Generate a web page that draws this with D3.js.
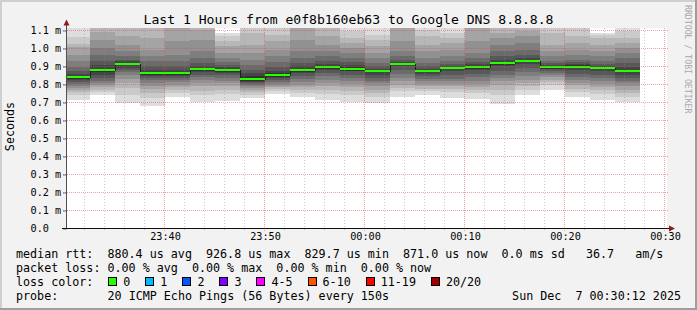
<!DOCTYPE html>
<html>
<head>
<meta charset="utf-8">
<script src="https://cdn.jsdelivr.net/npm/d3@7"></script>
<style>
  html, body { margin: 0; padding: 0; background: #f2f2f2; }
  svg { display: block; }
  text { font-family: "DejaVu Sans Mono", monospace; white-space: pre; }
</style>
</head>
<body>
<div id="chart"></div>
<script>
// ---- data ----
const title = "Last 1 Hours from e0f8b160eb63 to Google DNS 8.8.8.8";
const graphStart = "23:30:12";
const graphEnd = "00:30:12";

// end time of every 150 s step (first step starts at graphStart)
const stepEnds = [
    "23:32:30", "23:35:00", "23:37:30", "23:40:00", "23:42:30", "23:45:00",
    "23:47:30", "23:50:00", "23:52:30", "23:55:00", "23:57:30", "00:00:00",
    "00:02:30", "00:05:00", "00:07:30", "00:10:00", "00:12:30", "00:15:00",
    "00:17:30", "00:20:00", "00:22:30", "00:25:00", "00:27:30"
];

// median rtt per step, ms
const medians = [
    0.837, 0.876, 0.913, 0.859, 0.859, 0.881, 0.876, 0.8297, 0.848, 0.876, 0.893, 0.883,
    0.870, 0.909, 0.870, 0.887, 0.893, 0.915, 0.9268, 0.893, 0.896, 0.887, 0.871
];

// the 20 sorted pings per step, ms (smoke)
const pings = [
    [0.713,0.737,0.756,0.767,0.778,0.791,0.800,0.811,0.820,0.830,0.843,0.856,0.870,0.893,0.926,0.963,1.004,1.022,1.059,1.130],
    [0.737,0.754,0.769,0.783,0.796,0.806,0.818,0.833,0.852,0.867,0.885,0.904,0.930,0.963,1.000,1.046,1.090,1.120,1.150,1.200],
    [0.694,0.737,0.778,0.806,0.830,0.852,0.867,0.880,0.890,0.908,0.918,0.926,0.935,0.954,0.981,1.018,1.068,1.120,1.150,1.200],
    [0.676,0.722,0.750,0.772,0.791,0.806,0.820,0.833,0.843,0.851,0.867,0.880,0.898,0.926,0.954,0.990,1.055,1.110,1.130,1.200],
    [0.726,0.750,0.769,0.781,0.796,0.809,0.820,0.833,0.845,0.851,0.867,0.880,0.898,0.926,0.963,1.037,1.110,1.120,1.150,1.200],
    [0.700,0.737,0.763,0.787,0.806,0.824,0.837,0.852,0.867,0.873,0.889,0.900,0.917,0.944,0.981,1.046,1.100,1.120,1.150,1.200],
    [0.707,0.744,0.769,0.787,0.804,0.818,0.833,0.848,0.861,0.869,0.883,0.893,0.904,0.922,0.944,0.972,1.009,1.037,1.065,1.083],
    [0.720,0.739,0.754,0.765,0.776,0.787,0.796,0.804,0.810,0.816,0.843,0.861,0.880,0.907,0.935,0.972,1.018,1.083,1.110,1.130],
    [0.746,0.761,0.772,0.781,0.791,0.800,0.811,0.822,0.833,0.837,0.859,0.874,0.893,0.922,0.954,0.990,1.037,1.074,1.110,1.130],
    [0.729,0.750,0.767,0.781,0.796,0.811,0.828,0.843,0.861,0.867,0.885,0.898,0.917,0.944,0.981,1.046,1.110,1.120,1.150,1.200],
    [0.713,0.744,0.769,0.787,0.806,0.824,0.843,0.861,0.880,0.886,0.900,0.911,0.930,0.954,0.981,1.018,1.065,1.110,1.150,1.200],
    [0.700,0.737,0.763,0.781,0.800,0.815,0.833,0.852,0.870,0.873,0.893,0.907,0.922,0.944,0.972,1.000,1.028,1.055,1.092,1.130],
    [0.694,0.726,0.750,0.769,0.787,0.804,0.818,0.833,0.852,0.864,0.876,0.885,0.898,0.917,0.944,0.972,1.009,1.046,1.074,1.120],
    [0.729,0.759,0.778,0.796,0.815,0.833,0.856,0.880,0.898,0.903,0.915,0.922,0.935,0.954,0.981,1.037,1.110,1.120,1.150,1.200],
    [0.737,0.759,0.774,0.787,0.800,0.815,0.830,0.843,0.856,0.864,0.876,0.885,0.898,0.917,0.944,0.981,1.018,1.065,1.100,1.150],
    [0.722,0.754,0.774,0.787,0.800,0.815,0.830,0.848,0.870,0.881,0.893,0.900,0.911,0.930,0.954,0.990,1.028,1.055,1.083,1.110],
    [0.718,0.750,0.769,0.785,0.800,0.818,0.837,0.856,0.880,0.886,0.900,0.911,0.922,0.944,0.972,1.037,1.110,1.120,1.150,1.200],
    [0.689,0.737,0.769,0.793,0.815,0.833,0.852,0.870,0.898,0.908,0.922,0.935,0.954,0.981,1.018,1.055,1.083,1.110,1.150,1.200],
    [0.739,0.769,0.787,0.806,0.824,0.843,0.867,0.889,0.911,0.920,0.933,0.944,0.963,0.990,1.028,1.065,1.092,1.110,1.150,1.200],
    [0.769,0.793,0.811,0.824,0.837,0.848,0.859,0.870,0.883,0.886,0.900,0.907,0.917,0.930,0.954,0.981,1.018,1.083,1.110,1.130],
    [0.726,0.754,0.774,0.793,0.807,0.822,0.837,0.856,0.880,0.888,0.904,0.911,0.920,0.935,0.959,0.990,1.028,1.065,1.110,1.130],
    [0.713,0.744,0.769,0.785,0.800,0.815,0.833,0.852,0.870,0.881,0.893,0.900,0.911,0.930,0.954,0.981,1.018,1.055,1.074,1.083],
    [0.700,0.726,0.750,0.769,0.787,0.804,0.818,0.833,0.852,0.864,0.878,0.894,0.917,0.944,0.972,1.000,1.028,1.055,1.092,1.110]
];

const yTicks = [0, 0.1, 0.2, 0.3, 0.4, 0.5, 0.6, 0.7, 0.8, 0.9, 1.0, 1.1];
const yMax = 1.1111;

const legendRtt = "median rtt:  880.4 us avg  926.8 us max  829.7 us min  871.0 us now  0.0 ms sd   36.7   am/s";
const legendLoss = "packet loss: 0.00 % avg  0.00 % max  0.00 % min  0.00 % now";
const lossLabels = ["0", "1", "2", "3", "4-5", "6-10", "11-19", "20/20"];
const lossColors = ["#26ff00", "#00b8ff", "#0059ff", "#7e00ff", "#ff00ff", "#ff5500", "#ff0000", "#a10000"];
const probeText = "20 ICMP Echo Pings (56 Bytes) every 150s";
const stampText = "Sun Dec  7 00:30:12 2025";

// ---- drawing ----
const W = 697, H = 310;
const charW = 7.04; // legend advance

function toDate(s) {
    let [h, m, sec] = s.split(":").map(Number);
    return new Date(Date.UTC(2025, 11, h >= 12 ? 6 : 7, h, m, sec));
}

const x = d3.scaleUtc()
    .domain([toDate(graphStart), toDate(graphEnd)])
    .range([67, 667]);

const y = d3.scaleLinear()
    .domain([0, yMax])
    .range([228, 28]);

const svg = d3.select("#chart").append("svg")
    .attr("width", W)
    .attr("height", H);

// background and shading frame
svg.append("rect").attr("width", W).attr("height", H).attr("fill", "#f2f2f2");
svg.append("path").attr("d", `M0,0H${W}V2H2V${H}H0Z`).attr("fill", "#cfcfcf");
svg.append("path").attr("d", `M${W},${H}H0V${H-2}H${W-2}V0H${W}Z`).attr("fill", "#9e9e9e");

// canvas
svg.append("rect")
    .attr("x", x.range()[0]).attr("y", y.range()[1])
    .attr("width", x.range()[1] - x.range()[0])
    .attr("height", y.range()[0] - y.range()[1])
    .attr("fill", "#ffffff");

svg.append("clipPath").attr("id", "plotclip")
    .append("rect")
    .attr("x", x.range()[0]).attr("y", y.range()[1])
    .attr("width", x.range()[1] - x.range()[0])
    .attr("height", y.range()[0] - y.range()[1]);

const plot = svg.append("g").attr("clip-path", "url(#plotclip)");

// step extents
const steps = stepEnds.map((e, i) => ({
    x0: i === 0 ? x(toDate(graphStart)) : x(toDate(stepEnds[i - 1])),
    x1: x(toDate(e)),
    pings: pings[i],
    median: medians[i]
}));

// smoke: layer k spans ping[k] .. ping[19-k], darker towards the middle
const half = 10;
for (let k = 0; k < half; k++) {
    let c = Math.floor(190 / half * (half - (k + 1))) + 50;
    let col = d3.rgb(c, c, c).formatHex();
    plot.append("g")
        .selectAll("rect")
        .data(steps)
        .join("rect")
        .attr("x", d => d.x0)
        .attr("width", d => d.x1 - d.x0)
        .attr("y", d => y(d.pings[19 - k]))
        .attr("height", d => y(d.pings[k]) - y(d.pings[19 - k]))
        .attr("fill", col)
        .attr("shape-rendering", "crispEdges");
}

// median line (dark) and the loss-coloured band on top
const medPts = [];
steps.forEach(d => { medPts.push([d.x0, d.median]); medPts.push([d.x1, d.median]); });
plot.append("path")
    .attr("d", d3.line().x(p => p[0]).y(p => Math.round(y(p[1])) + 0.5)(medPts))
    .attr("fill", "none")
    .attr("stroke", "#202020")
    .attr("stroke-width", 1)
    .attr("shape-rendering", "crispEdges");

plot.append("g")
    .selectAll("rect")
    .data(steps)
    .join("rect")
    .attr("x", d => d.x0)
    .attr("width", d => d.x1 - d.x0)
    .attr("y", d => Math.round(y(d.median)) - 1)
    .attr("height", 2)
    .attr("fill", lossColors[0])
    .attr("shape-rendering", "crispEdges");

// grid on top
const minorTimes = d3.utcMinute.every(2).range(toDate(graphStart), toDate(graphEnd))
    .filter(t => t.getUTCMinutes() % 10 !== 0);
const majorTimes = d3.utcMinute.every(10).range(toDate(graphStart), toDate(graphEnd));

const grid = svg.append("g").attr("shape-rendering", "crispEdges");
grid.selectAll("line.minor")
    .data(minorTimes)
    .join("line")
    .attr("x1", d => Math.round(x(d)) - 0.5).attr("x2", d => Math.round(x(d)) - 0.5)
    .attr("y1", y.range()[1]).attr("y2", y.range()[0] + 2)
    .attr("stroke", "rgba(140,140,140,0.45)")
    .attr("stroke-dasharray", "1,2");
grid.selectAll("line.hmajor")
    .data(yTicks.slice(1))
    .join("line")
    .attr("x1", 63).attr("x2", 669)
    .attr("y1", d => Math.round(y(d)) + 0.5).attr("y2", d => Math.round(y(d)) + 0.5)
    .attr("stroke", "rgba(222,72,72,0.5)")
    .attr("stroke-dasharray", "1,1");
grid.selectAll("line.vmajor")
    .data(majorTimes)
    .join("line")
    .attr("x1", d => Math.round(x(d)) - 0.5).attr("x2", d => Math.round(x(d)) - 0.5)
    .attr("y1", y.range()[1]).attr("y2", y.range()[0] + 3)
    .attr("stroke", "rgba(222,72,72,0.5)")
    .attr("stroke-dasharray", "1,1");

// y axis
const yAxis = svg.append("g")
    .attr("transform", "translate(67,0)")
    .call(d3.axisLeft(y)
        .tickValues(yTicks)
        .tickSize(4)
        .tickFormat(v => v === 0 ? "0.0" : d3.format(".1f")(v) + " m"));
yAxis.select(".domain").remove();
yAxis.selectAll(".tick line")
    .attr("stroke", "#707070")
    .attr("transform", "translate(0,0.5)");
yAxis.selectAll(".tick text")
    .attr("x", 30.5 - 67)
    .attr("dy", "0.35em")
    .attr("text-anchor", "start")
    .attr("font-family", "DejaVu Sans Mono")
    .attr("font-size", "10.2px")
    .attr("fill", "#000");

// x axis
const xAxis = svg.append("g")
    .attr("transform", "translate(0,228)")
    .call(d3.axisBottom(x)
        .tickValues(majorTimes)
        .tickSize(0)
        .tickFormat(d3.utcFormat("%H:%M")));
xAxis.select(".domain").remove();
xAxis.selectAll(".tick text")
    .attr("y", 5)
    .attr("font-family", "DejaVu Sans Mono")
    .attr("font-size", "10.2px")
    .attr("fill", "#000");

// axis lines + arrows
svg.append("line")
    .attr("x1", 66.5).attr("x2", 66.5).attr("y1", 229).attr("y2", 24)
    .attr("stroke", "#505050");
svg.append("line")
    .attr("x1", 62).attr("x2", 670).attr("y1", 228.5).attr("y2", 228.5)
    .attr("stroke", "#101010");
svg.append("path").attr("d", "M63.5,25.5L66.5,19.5L69.5,25.5Z").attr("fill", "#8b1a1a");
svg.append("path").attr("d", "M669,225.5L675,228.5L669,231.5Z").attr("fill", "#8b1a1a");

// title
svg.append("text")
    .attr("x", W / 2).attr("y", 24)
    .attr("text-anchor", "middle")
    .attr("font-size", "13.1px")
    .attr("fill", "#000")
    .text(title);

// vertical label
svg.append("text")
    .attr("transform", "translate(14,126.5) rotate(-90)")
    .attr("text-anchor", "middle")
    .attr("font-size", "11.7px")
    .attr("fill", "#000")
    .text("Seconds");

// watermark
svg.append("text")
    .attr("transform", "translate(684.5,5) rotate(90)")
    .attr("font-size", "8.2px")
    .attr("fill", "#a8a8a8")
    .text("RRDTOOL / TOBI OETIKER");

// legend
const legend = svg.append("g")
    .attr("font-size", "11.7px")
    .attr("fill", "#000");
legend.append("text").attr("x", 16).attr("y", 258).attr("xml:space", "preserve").text(legendRtt);
legend.append("text").attr("x", 16).attr("y", 272).attr("xml:space", "preserve").text(legendLoss);
legend.append("text").attr("x", 16).attr("y", 286).text("loss color:");
legend.append("text").attr("x", 16).attr("y", 300).text("probe:");
legend.append("text").attr("x", 16 + 13 * charW).attr("y", 300).text(probeText);
legend.append("text").attr("x", 681).attr("y", 300)
    .attr("text-anchor", "end").attr("xml:space", "preserve").text(stampText);

let bx = 108.3;
lossLabels.forEach((lab, i) => {
    legend.append("rect")
        .attr("x", Math.round(bx) + 0.5).attr("y", 277.5)
        .attr("width", 8).attr("height", 8)
        .attr("fill", lossColors[i])
        .attr("stroke", "#000")
        .attr("shape-rendering", "crispEdges");
    legend.append("text")
        .attr("x", bx + 15).attr("y", 286)
        .text(lab);
    bx += 30 + lab.length * charW;
});
</script>
</body>
</html>
